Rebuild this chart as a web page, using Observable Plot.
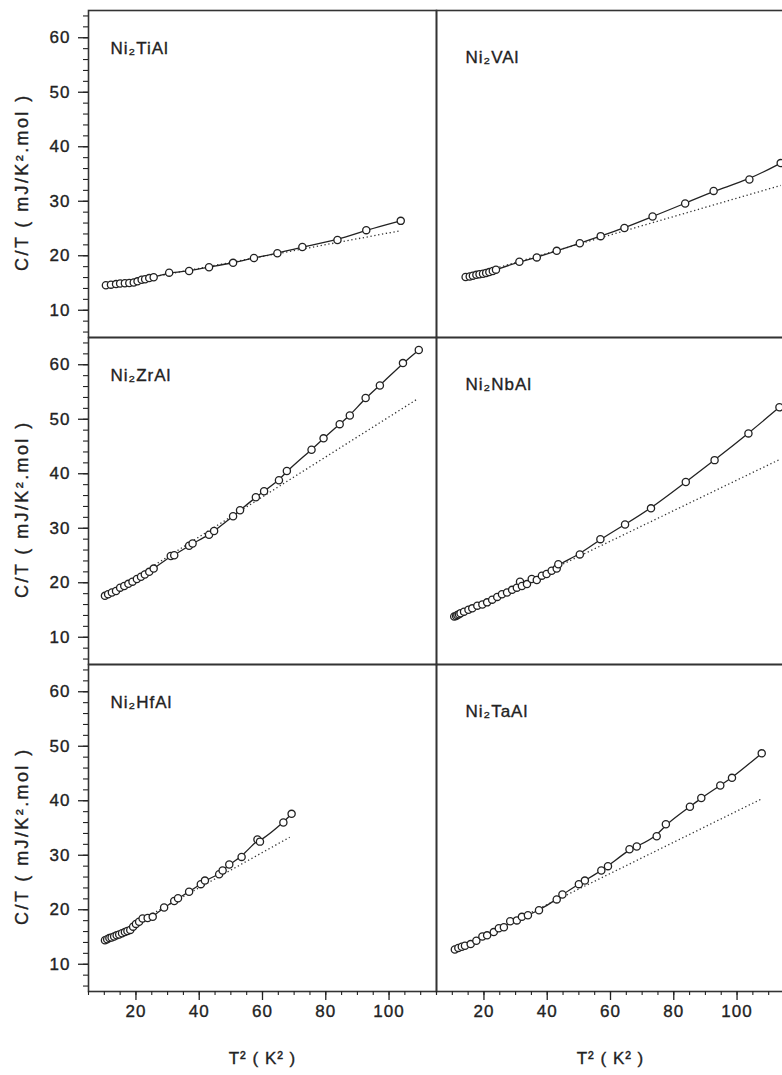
<!DOCTYPE html>
<html><head><meta charset="utf-8">
<script src="https://cdn.jsdelivr.net/npm/d3@7"></script>
<script src="https://cdn.jsdelivr.net/npm/@observablehq/plot@0.6"></script>
<style>
html,body{margin:0;padding:0;background:#fff;overflow:hidden}
#chart svg{display:block}
#chart svg text{stroke:#222;stroke-width:0.35px;font-family:'Liberation Sans', Arial, Helvetica, sans-serif}
#chart svg .ylab text{letter-spacing:2.4px}
</style></head><body><div id="chart"></div>
<script>
// Panel names (reading order: left/right, top to bottom)
const compounds = ["Ni₂TiAl", "Ni₂VAl", "Ni₂ZrAl", "Ni₂NbAl", "Ni₂HfAl", "Ni₂TaAl"];

// Measured C/T vs T² per compound
const tiAlT2 = [10.5, 12.1, 13.7, 15.0, 16.5, 17.9, 19.3, 20.5, 21.8, 22.9, 24.2, 25.6, 30.5, 36.8, 43.1, 50.7, 57.3, 64.7, 72.6, 83.7, 92.8, 103.7];
const tiAlCT = [14.6, 14.7, 14.8, 14.9, 14.95, 15.0, 15.1, 15.3, 15.6, 15.7, 15.9, 16.05, 16.9, 17.2, 17.9, 18.7, 19.6, 20.45, 21.6, 22.9, 24.7, 26.4];

const vAlT2 = [14.2, 15.5, 16.5, 17.6, 18.6, 19.7, 20.7, 21.7, 22.8, 23.8, 31.2, 36.7, 43.0, 50.3, 56.9, 64.4, 73.3, 83.6, 92.6, 103.9, 113.8];
const vAlCT = [16.1, 16.2, 16.35, 16.5, 16.6, 16.7, 16.85, 17.0, 17.2, 17.45, 18.9, 19.7, 20.9, 22.3, 23.6, 25.1, 27.2, 29.6, 31.9, 34.0, 37.0];

const zrAlT2 = [10.2, 11.2, 12.4, 13.7, 15.0, 16.3, 17.6, 18.9, 20.3, 21.6, 22.8, 24.2, 25.6, 31.0, 32.1, 36.8, 37.9, 43.1, 44.7, 50.7, 52.9, 57.9, 60.5, 65.2, 67.7, 75.5, 79.3, 84.4, 87.6, 92.6, 97.1, 104.4, 109.4];
const zrAlCT = [17.6, 17.9, 18.2, 18.5, 19.1, 19.4, 19.8, 20.2, 20.7, 21.1, 21.5, 22.0, 22.6, 24.9, 25.05, 26.8, 27.2, 28.8, 29.5, 32.2, 33.3, 35.7, 36.8, 38.8, 40.5, 44.4, 46.5, 49.1, 50.7, 53.9, 56.2, 60.3, 62.7];

const nbAlT2 = [10.6, 11.2, 11.6, 12.1, 12.6, 13.7, 15.1, 16.3, 17.9, 19.5, 21.0, 22.6, 24.2, 25.7, 27.3, 28.9, 30.4, 31.4, 32.0, 33.6, 35.1, 36.7, 38.3, 39.8, 41.4, 43.0, 43.5, 50.3, 56.8, 64.6, 72.8, 83.8, 92.9, 103.6, 113.4];
const nbAlCT = [13.8, 13.9, 14.1, 14.2, 14.4, 14.7, 15.05, 15.3, 15.8, 16.0, 16.4, 16.9, 17.4, 17.9, 18.2, 18.7, 19.1, 20.2, 19.4, 19.75, 20.7, 20.5, 21.3, 21.6, 22.2, 22.6, 23.4, 25.2, 28.0, 30.7, 33.65, 38.5, 42.5, 47.4, 52.2];

const hfAlT2 = [10.2, 10.9, 11.6, 12.3, 13.1, 13.9, 14.7, 15.6, 16.5, 17.3, 18.2, 19.1, 20.0, 21.0, 22.1, 23.7, 25.3, 28.9, 32.1, 33.3, 36.8, 40.5, 41.8, 46.3, 47.4, 49.5, 53.4, 58.4, 59.2, 66.6, 69.2];
const hfAlCT = [14.4, 14.6, 14.8, 14.9, 15.1, 15.3, 15.45, 15.7, 15.9, 16.1, 16.3, 16.9, 17.4, 17.8, 18.4, 18.5, 18.7, 20.4, 21.6, 22.1, 23.3, 24.7, 25.35, 26.5, 27.2, 28.3, 29.7, 32.9, 32.5, 36.0, 37.6];

const taAlT2 = [10.8, 11.9, 13.0, 14.0, 15.8, 17.6, 19.5, 21.0, 23.1, 24.7, 26.3, 28.3, 30.4, 32.0, 33.9, 37.4, 43.0, 44.8, 50.0, 51.9, 57.1, 59.2, 66.0, 68.3, 74.6, 77.5, 85.1, 88.7, 94.7, 98.4, 107.8];
const taAlCT = [12.7, 13.0, 13.2, 13.4, 13.7, 14.3, 15.1, 15.3, 15.9, 16.6, 16.8, 17.9, 18.05, 18.7, 19.0, 19.9, 21.9, 22.8, 24.7, 25.35, 27.2, 28.0, 31.1, 31.6, 33.5, 35.7, 38.9, 40.5, 42.8, 44.2, 48.7];

// Low-temperature linear fit (dotted line) end points, per compound
const fitStartT2 = [10.5, 14.2, 10.2, 10.6, 10.2, 10.8];
const fitStartCT = [14.5, 16.1, 17.5, 13.8, 14.4, 12.6];
const fitEndT2   = [103.7, 113.8, 109.2, 113.4, 68.6, 107.8];
const fitEndCT   = [24.6, 32.9, 53.8, 42.6, 33.3, 40.35];

// Axis ticks
const xTicks = [20, 40, 60, 80, 100];
const xMinor = d3.range(5, 116, 5);
const yTicks = [10, 20, 30, 40, 50, 60];
const yMinor = d3.range(6, 65, 2);

const xLabel = "T² ( K² )";
const yLabel = "C/T ( mJ/K².mol )";

// ---- build tables ----
const seriesT2 = [tiAlT2, vAlT2, zrAlT2, nbAlT2, hfAlT2, taAlT2];
const seriesCT = [tiAlCT, vAlCT, zrAlCT, nbAlCT, hfAlCT, taAlCT];
const colOf = i => (i % 2 === 0 ? "L" : "R");
const rowOf = i => Math.floor(i / 2);

const points = compounds.flatMap((name, i) =>
  seriesT2[i].map((t2, j) => ({compound: name, t2, ct: seriesCT[i][j], col: colOf(i), row: rowOf(i)})));
const fits = compounds.map((name, i) => ({
  compound: name, x1: fitStartT2[i], y1: fitStartCT[i], x2: fitEndT2[i], y2: fitEndCT[i], col: colOf(i), row: rowOf(i)}));
const panels = compounds.map((name, i) => ({name, col: colOf(i), row: rowOf(i)}));
const yLabelRows = [0, 1, 2].map(r => ({col: "L", row: r}));
const xLabelCols = ["L", "R"].map(c => ({col: c, row: 2}));

const ink = "#222";
const [xMin] = [5];

const chart = Plot.plot({
  width: 782,
  height: 1075,
  marginLeft: 88,
  marginRight: -2,
  marginTop: 10,
  marginBottom: 84,
  x: {domain: [5, 115], label: null},
  y: {domain: [5, 65], label: null},
  fx: {domain: ["L", "R"], padding: 0, axis: null},
  fy: {domain: [0, 1, 2], padding: 0, axis: null},
  style: "font-family: 'Liberation Sans', Arial, Helvetica, sans-serif; color: #222; background: #fff; letter-spacing: 1px;",
  marks: [
    Plot.frame({stroke: "#333", strokeWidth: 1.6}),
    Plot.axisY({ticks: yMinor, tickSize: 5, tickFormat: () => "", label: null, stroke: ink, strokeWidth: 1.1, facetAnchor: "left"}),
    Plot.axisY({ticks: yTicks, tickSize: 10, tickPadding: 8, fontSize: 17, label: null, stroke: ink, strokeWidth: 1.3, fill: ink, facetAnchor: "left"}),
    Plot.axisX({ticks: xMinor, tickSize: 4, tickFormat: () => "", label: null, stroke: ink, strokeWidth: 1.1, facetAnchor: "bottom"}),
    Plot.axisX({ticks: xTicks, tickSize: 9, tickPadding: 4, fontSize: 17, label: null, stroke: ink, strokeWidth: 1.3, fill: ink, facetAnchor: "bottom"}),
    Plot.link(fits, {x1: "x1", y1: "y1", x2: "x2", y2: "y2", fx: "col", fy: "row",
      stroke: "#333", strokeWidth: 1.3, strokeDasharray: "1.3,2.6"}),
    Plot.line(points, {x: "t2", y: "ct", z: "compound", fx: "col", fy: "row",
      curve: "basis", stroke: ink, strokeWidth: 1.3}),
    Plot.dot(points, {x: "t2", y: "ct", fx: "col", fy: "row",
      r: 3.6, stroke: ink, strokeWidth: 1.3, fill: "white"}),
    Plot.text(panels.filter(d => d.col === "L"), {text: "name", fx: "col", fy: "row",
      frameAnchor: "top-left", textAnchor: "start", lineAnchor: "middle", dx: 22, dy: 38, fontSize: 17, fill: ink}),
    Plot.text(panels.filter(d => d.col === "R"), {text: "name", fx: "col", fy: "row",
      frameAnchor: "top-left", textAnchor: "start", lineAnchor: "middle", dx: 29, dy: 47, fontSize: 17, fill: ink}),
    Plot.text(yLabelRows, {text: () => yLabel, fx: "col", fy: "row",
      x: () => xMin, y: () => 33.5, rotate: -90, dx: -66, fontSize: 18, fill: ink, className: "ylab"}),
    Plot.text(xLabelCols, {text: () => xLabel, fx: "col", fy: "row",
      frameAnchor: "bottom", dy: 72, fontSize: 17, fill: ink})
  ]
});
document.getElementById("chart").append(chart);
</script>
</body></html>
